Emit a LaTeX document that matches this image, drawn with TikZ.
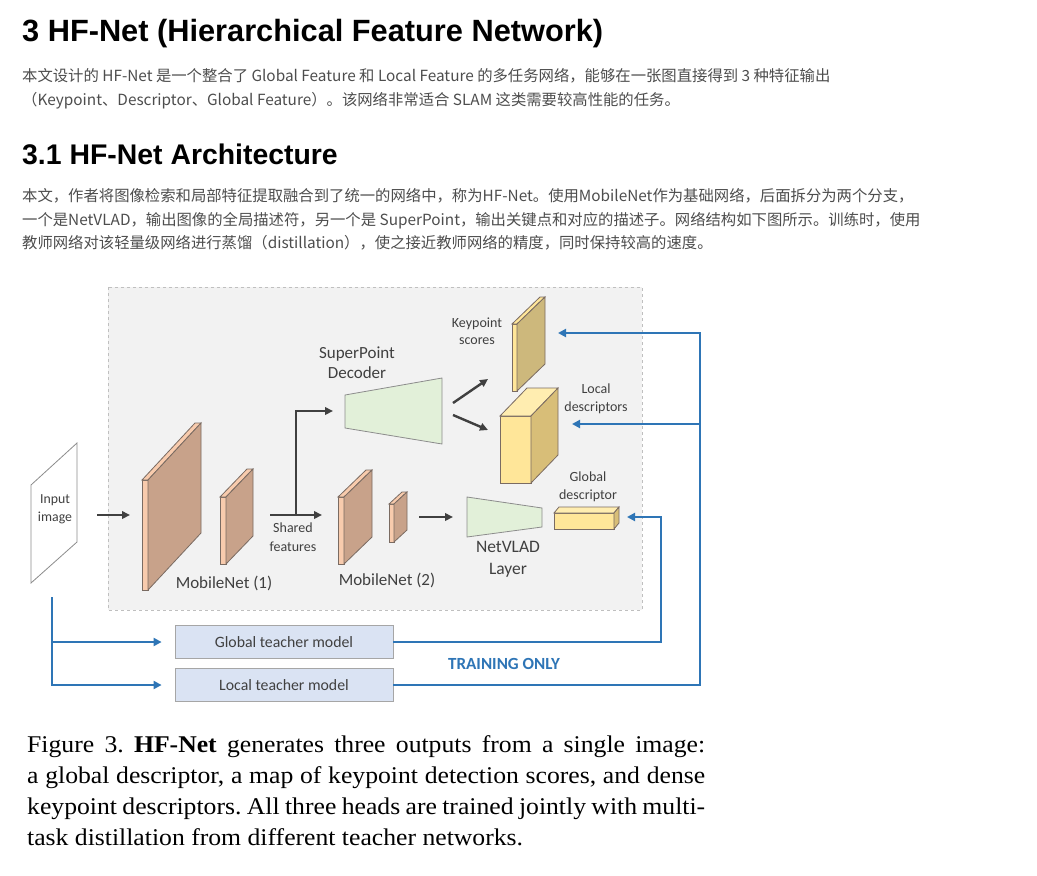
\documentclass[tikz,border=0pt]{standalone}
\usepackage{fontspec}
\setmainfont{Liberation Serif}
\newfontfamily\capfont[FakeStretch=1.07]{Liberation Serif}
\newfontfamily\headfont{Liberation Sans}
\newfontfamily\cjkfont{Noto Sans CJK SC}
\newfontfamily\figfont{Carlito}
\usepackage{tikz}
\usetikzlibrary{arrows.meta,positioning,calc}
\definecolor{bgbox}{HTML}{F2F2F2}
\definecolor{bgline}{HTML}{BFBFBF}
\definecolor{peach}{HTML}{F8CBAD}
\definecolor{brownface}{HTML}{C8A28A}
\definecolor{slabline}{HTML}{7A6B62}
\definecolor{paleyellow}{HTML}{FFE699}
\definecolor{topyellow}{HTML}{FFEDB0}
\definecolor{tanface}{HTML}{CDB87C}
\definecolor{tanside}{HTML}{D8BE78}
\definecolor{palegreen}{HTML}{E2F0D9}
\definecolor{teacherfill}{HTML}{DAE3F3}
\definecolor{darkarrow}{HTML}{404040}
\definecolor{trainblue}{HTML}{2E75B6}
\definecolor{bodygray}{HTML}{4D4D4D}
\tikzset{
  font={\figfont\fontsize{17pt}{20}\selectfont}}

% cuboid: x, y top, front width, height, dx, dy, front, top, side colours
\newcommand{\slab}[9]{%
  \filldraw[draw=slabline, line width=0.8pt, fill=#7] (#1,#2) rectangle ++(#3,#4);
  \filldraw[draw=slabline, line width=0.8pt, fill=#8] (#1,#2) -- ++(#3,0) -- ++(#5,-#6) -- ++(-#3,0) -- cycle;
  \filldraw[draw=slabline, line width=0.8pt, fill=#9] (#1+#3,#2) -- ++(#5,-#6) -- ++(0,#4) -- ++(-#5,#6) -- cycle;
}

\begin{document}
\begin{tikzpicture}[x=1pt, y=-1pt,
    heading/.style ={anchor=base west, inner sep=0pt, text=black,
      font={\headfont\bfseries\fontsize{30.75pt}{34}\selectfont}},
    subheading/.style ={heading, font={\headfont\bfseries\fontsize{28.4pt}{32}\selectfont}},
    bodyline/.style ={anchor=base west, inner sep=0pt, text=bodygray,
      font={\cjkfont\fontsize{15.35pt}{18}\selectfont}},
    label_big/.style ={align=center, inner sep=0pt, text=darkarrow,
      font={\figfont\fontsize{17pt}{20}\selectfont}},
    label_small/.style ={align=center, inner sep=0pt, text=darkarrow,
      font={\figfont\fontsize{14pt}{18}\selectfont}},
    teacher/.style ={rectangle, draw=gray!70, line width=0.8pt, fill=teacherfill,
      minimum width=218pt, minimum height=33pt, text=darkarrow,
      font={\figfont\fontsize{15.8pt}{18}\selectfont}},
    trapez/.style ={draw=gray!90, line width=0.8pt, fill=palegreen},
    paths2/.style={darkarrow, draw, line width=2.4pt,
      arrows={-Triangle[length=8pt, width=7.5pt]}},
    paths_blue/.style={trainblue, draw, line width=2.3pt,
      arrows={-Triangle[length=8pt, width=8pt]}}]
    \useasboundingbox (0,0) rectangle (1037,876);
    \fill[white] (0,0) rectangle (1037,876);

    % page text above the figure
    \node[heading] (title) at (22,41) {3 HF-Net (Hierarchical Feature Network)};
    \node[bodyline] (p1a) at (22,81) {本文设计的 HF-Net 是一个整合了 Global Feature 和 Local Feature 的多任务网络，能够在一张图直接得到 3 种特征输出};
    \node[bodyline] (p1b) at (22,105) {（Keypoint、Descriptor、Global Feature）。该网络非常适合 SLAM 这类需要较高性能的任务。};
    \node[subheading] (subtitle) at (22,164) {3.1 HF-Net Architecture};
    \node[bodyline] (p2a) at (22,201) {本文，作者将图像检索和局部特征提取融合到了统一的网络中，称为HF-Net。使用MobileNet作为基础网络，后面拆分为两个分支，};
    \node[bodyline] (p2b) at (22,225) {一个是NetVLAD，输出图像的全局描述符，另一个是 SuperPoint，输出关键点和对应的描述子。网络结构如下图所示。训练时，使用};
    \node[bodyline] (p2c) at (22,248) {教师网络对该轻量级网络进行蒸馏（distillation），使之接近教师网络的精度，同时保持较高的速度。};

    % grey network area
    \filldraw[fill=bgbox, draw=bgline, dashed, line width=0.8pt] (108,287) rectangle (642,610);

    % input image
    \filldraw[fill=white, draw=gray!90, line width=0.8pt] (31,485) -- (77,443) -- (77,542) -- (31,583) -- cycle;
    \node[label_small, font={\figfont\fontsize{13.8pt}{18}\selectfont}] (input) at (55,509) {Input\\image};

    % MobileNet (1)
    \slab{142}{480}{6}{110}{53}{57}{peach}{peach}{brownface}
    \slab{220}{497}{6}{67}{27}{28}{peach}{peach}{brownface}
    \node[label_big] (mnet1) at (224,583) {MobileNet (1)};
    \node[label_small, font={\figfont\fontsize{14pt}{19}\selectfont}] (shared) at (293,537) {Shared\\features};

    % SuperPoint decoder and its outputs
    \filldraw[trapez] (345,395) -- (442,378) -- (442,444) -- (345,428) -- cycle;
    \node[label_big] (spdec) at (357,363) {SuperPoint\\Decoder};
    \slab{512}{324}{5}{67}{28}{27}{paleyellow}{paleyellow}{tanface}
    \node[label_small, font={\figfont\fontsize{14pt}{17}\selectfont}] (kpscore) at (477,331) {Keypoint\\scores};
    \slab{500}{416}{31}{67}{27}{28}{paleyellow}{topyellow}{tanside}
    \node[label_small] (localdesc) at (596,399) {Local\\descriptors};

    % MobileNet (2) and NetVLAD
    \slab{338}{497}{6}{67}{28}{27}{peach}{peach}{brownface}
    \slab{389}{504}{5}{38}{13}{12}{peach}{peach}{brownface}
    \node[label_big] (mnet2) at (387,580) {MobileNet (2)};
    \filldraw[trapez] (467,497) -- (542,508) -- (542,527) -- (467,537) -- cycle;
    \node[label_big, font={\figfont\fontsize{17.5pt}{22}\selectfont}] (netvlad) at (508,559) {NetVLAD\\Layer};
    \slab{554}{513}{60}{16}{5}{6}{paleyellow}{topyellow}{tanside}
    \node[label_small] (globaldesc) at (588,487) {Global\\descriptor};

    % teacher models
    \node[teacher] (gteacher) at (284,642) {Global teacher model};
    \node[teacher] (lteacher) at (284,685) {Local teacher model};
    \node[text=trainblue, inner sep=0pt, font={\figfont\bfseries\fontsize{17pt}{18}\selectfont}] (trainonly) at (504,664) {TRAINING ONLY};

    % connector end points
    \coordinate (in_out) at (97,515);
    \coordinate (mn1_in) at (130,515);
    \coordinate (sh_start) at (270,515);
    \coordinate (sh_end) at (322,515);
    \coordinate (sh_split) at (296,515);
    \coordinate (sp_in) at (333,411);
    \coordinate (dec_out1) at (453,403);
    \coordinate (kp_arrow) at (488,379);
    \coordinate (dec_out2) at (453,415);
    \coordinate (ld_arrow) at (488,430);
    \coordinate (mn2_out) at (419,517);
    \coordinate (nv_in) at (453,517);
    \coordinate (split_top) at (52,597);
    \coordinate (gd_turn) at (661,517);
    \coordinate (gd_in) at (627,517);
    \coordinate (kp_turn) at (700,333);
    \coordinate (kp_in) at (558,333);
    \coordinate (ld_branch) at (700,424);
    \coordinate (ld_in) at (572,424);

    % connecting nodes with paths
    \begin{scope}[every path/.style=paths2]
      \path (in_out) -- (mn1_in);
      \path (sh_start) -- (sh_end);
      \path (sh_split) |- (sp_in);
      \path (dec_out1) -- (kp_arrow);
      \path (dec_out2) -- (ld_arrow);
      \path (mn2_out) -- (nv_in);
    \end{scope}
    \begin{scope}[every path/.style=paths_blue]
      \path[shorten >=13pt] (split_top) |- (gteacher.west);
      \path[shorten >=13pt] (split_top) |- (lteacher.west);
      \path (gteacher.east) -| (gd_turn) -- (gd_in);
      \path (lteacher.east) -| (kp_turn) -- (kp_in);
      \path (ld_branch) -- (ld_in);
    \end{scope}

    % caption
    \node[anchor=north west, inner sep=0pt, text width=678pt, align=justify,
      font={\capfont\frenchspacing\fontsize{24pt}{31}\selectfont}] (caption) at (27,735)
      {Figure 3. \textbf{HF-Net} generates three outputs from a single image:\linebreak
       a global descriptor, a map of keypoint detection scores, and dense\linebreak
       keypoint descriptors. All three heads are trained jointly with multi-\linebreak
       task distillation from different teacher networks.};
  \end{tikzpicture}
\end{document}
